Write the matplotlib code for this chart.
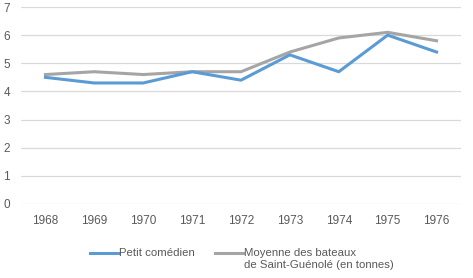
import matplotlib
matplotlib.use('Agg')
import matplotlib.pyplot as plt
from matplotlib.lines import Line2D

years = ['1968', '1969', '1970', '1971', '1972', '1973', '1974', '1975', '1976']
petit_comedien = [4.5, 4.3, 4.3, 4.7, 4.4, 5.3, 4.7, 6.0, 5.4]
moyenne_bateaux = [4.6, 4.7, 4.6, 4.7, 4.7, 5.4, 5.9, 6.1, 5.8]
labels = ['Petit comédien', 'Moyenne des bateaux\nde Saint-Guénolé (en tonnes)']

blue = '#5B9BD5'
grey = '#A5A5A5'
txt = '#595959'

plt.rcParams['font.family'] = ['Liberation Sans', 'DejaVu Sans']

W, H = 473, 278
fig = plt.figure(figsize=(W / 100, H / 100), dpi=100)
ax = fig.add_axes([21 / W, 74 / H, 440 / W, 197 / H])

x = range(len(years))
ax.plot(x, petit_comedien, color=blue, lw=2.2, solid_joinstyle='round', zorder=3)
ax.plot(x, moyenne_bateaux, color=grey, lw=2.2, solid_joinstyle='round', zorder=2)

ax.set_xlim(-0.5, len(years) - 0.5)
ax.set_ylim(0, 7)
ax.set_yticks(range(0, 8))
ax.set_xticks(list(x))
ax.set_xticklabels(years)
ax.grid(axis='y', color='#D9D9D9', lw=0.9)
ax.set_axisbelow(True)
for s in ax.spines.values():
    s.set_visible(False)
ax.tick_params(length=0, labelsize=8.5, colors=txt)
ax.tick_params(axis='y', pad=8)
ax.tick_params(axis='x', pad=8)

# legend drawn by hand so the handle sits on the first text line
ly = (H - 253) / H
fig.add_artist(Line2D([90 / W, 118 / W], [ly, ly], color=blue, lw=2.2))
fig.text(119 / W, ly - 0.5 / H, labels[0], color=txt, fontsize=8.2, va='center')
fig.add_artist(Line2D([215 / W, 243 / W], [ly, ly], color=grey, lw=2.2))
fig.text(244 / W, ly + 5 / H, labels[1], color=txt, fontsize=8.2, va='top', linespacing=1.3)

fig.savefig('out.png', dpi=100)
